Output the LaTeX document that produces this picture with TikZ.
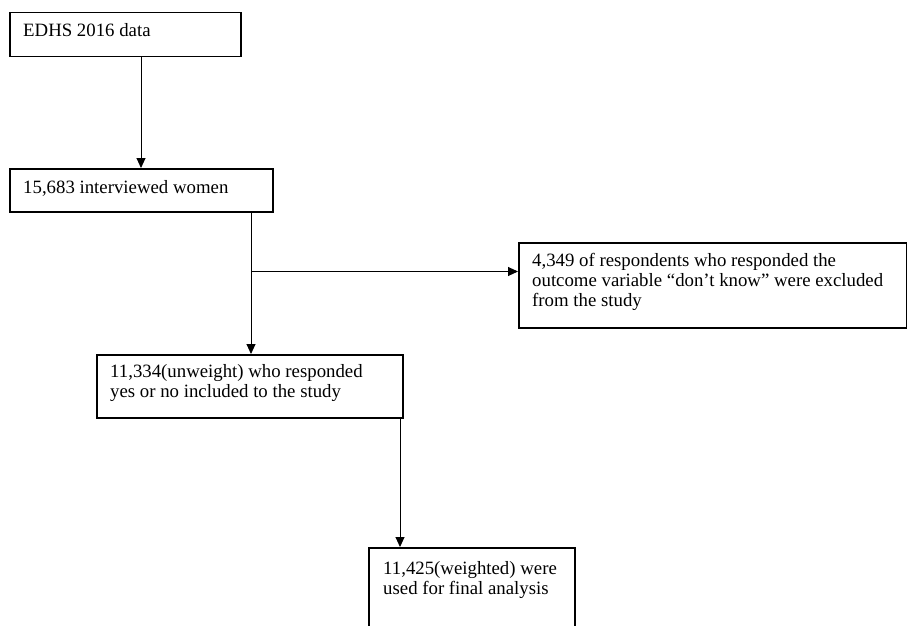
\documentclass[tikz,border=0pt]{standalone}
\usepackage{fontspec}
\setmainfont{Liberation Serif}
\usetikzlibrary{arrows.meta}
\begin{document}
\begin{tikzpicture}[x=1pt,y=-1pt,
  box/.style={draw=black, line width=1.5pt, rectangle, inner sep=0pt, anchor=north west},
  txt/.style={anchor=base west, inner sep=0pt, align=left, font=\fontsize{18.8pt}{19.8pt}\selectfont},
  arr/.style={draw=black, line width=0.9pt, -{Triangle[length=10pt,width=9pt]}}]
\useasboundingbox (0,0) rectangle (907,626);
\clip (0,0) rectangle (907,626);
% boxes
\node[box, minimum width=231pt, minimum height=44pt] (b1) at (9,12) {};
\node[box, minimum width=263pt, minimum height=43pt] (b2) at (9,168) {};
\node[box, minimum width=388pt, minimum height=85pt] (b4) at (518,242) {};
\node[box, minimum width=306pt, minimum height=63pt] (b3) at (96,354) {};
\node[box, minimum width=206pt, minimum height=100pt] (b5) at (368,547) {};
% texts (base anchor = baseline of the last line)
\node[txt] (t1) at (23,37) {EDHS 2016 data};
\node[txt] (t2) at (23,193) {15,683 interviewed women};
\node[txt] (t4) at (532,306) {4,349 of respondents who responded the\\outcome variable “don’t know” were excluded\\from the study};
\node[txt] (t3) at (110,397) {11,334(unweight) who responded\\yes or no included to the study};
\node[txt] (t5) at (383,594) {11,425(weighted) were\\used for final analysis};
% connectors
\draw[arr] ([xshift=132pt]b1.south west) -- ([xshift=132pt]b2.north west);
\draw[arr] ([xshift=242pt]b2.south west) -- ([xshift=155pt]b3.north west);
\coordinate (j) at ([xshift=242pt,yshift=-59pt]b2.south west);
\draw[arr] (j) -- (j -| b4.west);
\draw[arr] ([xshift=304pt]b3.south west) -- ([xshift=32pt]b5.north west);
\end{tikzpicture}
\end{document}
